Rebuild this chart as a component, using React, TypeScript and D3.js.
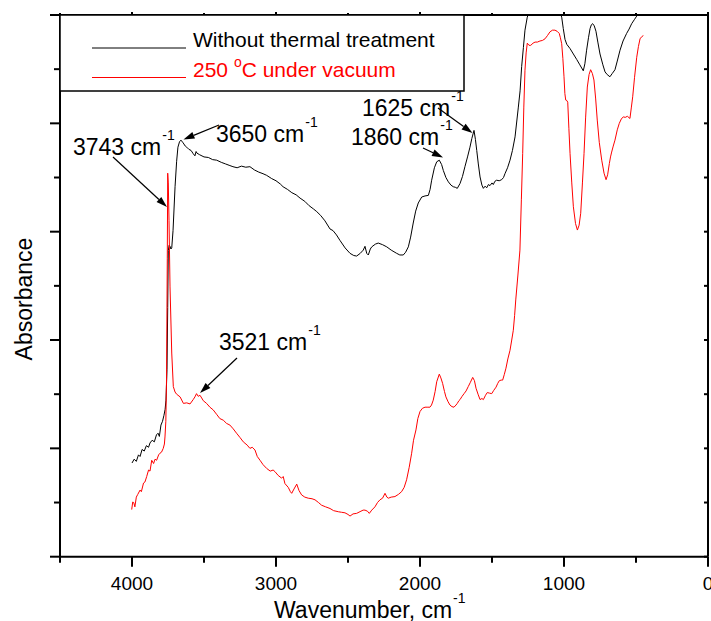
import React from "react";
import * as d3 from "d3";

// [wavenumber (cm-1), absorbance (a.u.)]
const untreated: [number, number][] = [
  [4000,1.73],[3985,1.80],[3970,1.76],[3955,1.88],[3944,1.85],[3930,1.98],[3915,1.95],[3900,2.05],[3885,2.02],[3875,2.10],[3860,2.15],[3845,2.12],[3830,2.25],[3819,2.28],[3810,2.22],[3799,2.43],[3788,2.50],[3778,2.61],[3770,2.72],[3764,2.89],[3757,3.45],[3752,4.6],[3748,5.65],[3742,5.75],[3736,5.73],[3730,5.68],[3724,5.70],[3715,6.02],[3701,6.83],[3690,7.30],[3681,7.56],[3670,7.66],[3660,7.69],[3645,7.64],[3630,7.58],[3620,7.56],[3605,7.52],[3590,7.50],[3575,7.44],[3563,7.40],[3555,7.48],[3549,7.45],[3530,7.42],[3500,7.38],[3470,7.37],[3440,7.33],[3412,7.32],[3380,7.28],[3350,7.25],[3320,7.22],[3299,7.20],[3270,7.18],[3240,7.21],[3210,7.19],[3181,7.20],[3150,7.14],[3120,7.10],[3090,7.07],[3065,7.04],[3030,6.98],[3000,6.94],[2970,6.88],[2951,6.83],[2920,6.78],[2890,6.72],[2860,6.68],[2833,6.62],[2800,6.56],[2770,6.48],[2740,6.42],[2717,6.37],[2690,6.30],[2660,6.20],[2625,6.05],[2604,6.02],[2580,5.94],[2556,5.84],[2520,5.70],[2486,5.60],[2460,5.56],[2440,5.55],[2415,5.60],[2394,5.66],[2382,5.73],[2370,5.60],[2359,5.57],[2345,5.68],[2335,5.72],[2310,5.77],[2290,5.79],[2260,5.76],[2231,5.72],[2200,5.66],[2162,5.60],[2140,5.57],[2116,5.57],[2100,5.62],[2081,5.72],[2065,5.90],[2047,6.16],[2030,6.38],[2012,6.53],[1988,6.64],[1965,6.66],[1942,6.67],[1930,6.78],[1919,6.95],[1900,7.18],[1884,7.29],[1866,7.32],[1850,7.24],[1838,7.13],[1820,7.00],[1803,6.92],[1785,6.86],[1769,6.83],[1755,6.82],[1741,6.80],[1722,6.89],[1705,7.02],[1688,7.20],[1670,7.38],[1653,7.56],[1640,7.72],[1625,7.87],[1615,7.70],[1606,7.50],[1595,7.25],[1583,7.01],[1570,6.86],[1560,6.80],[1548,6.84],[1537,6.81],[1525,6.87],[1514,6.85],[1500,6.90],[1491,6.87],[1480,6.93],[1468,6.95],[1450,6.94],[1433,6.96],[1420,7.00],[1410,7.07],[1392,7.18],[1375,7.32],[1358,7.50],[1340,7.75],[1317,8.30],[1305,8.60],[1294,9.05],[1282,9.40],[1271,9.72],[1255,9.96],[1236,10.1],[1200,10.2],[1150,10.3],[1100,10.3],[1050,10.2],[1028,10.05],[1016,9.96],[1005,9.75],[993,9.55],[981,9.46],[958,9.38],[935,9.28],[912,9.18],[890,9.08],[866,8.97],[855,9.10],[843,9.35],[830,9.58],[819,9.75],[810,9.82],[801,9.84],[790,9.80],[778,9.70],[765,9.50],[750,9.28],[730,9.08],[715,8.95],[700,8.90],[681,8.86],[665,8.92],[646,8.99],[630,9.15],[611,9.35],[590,9.52],[565,9.66],[548,9.74],[530,9.84],[510,9.92],[495,9.98],[480,10.05]
];

const vacuum250: [number, number][] = [
  [4002,0.87],[3995,1.01],[3988,1.00],[3980,0.92],[3970,1.10],[3960,1.15],[3944,1.23],[3935,1.20],[3920,1.36],[3910,1.38],[3898,1.48],[3885,1.60],[3875,1.58],[3863,1.78],[3850,1.72],[3840,1.80],[3829,1.78],[3815,1.88],[3806,1.91],[3795,1.93],[3783,2.00],[3775,2.08],[3771,2.21],[3765,2.5],[3760,3.3],[3755,5.5],[3752,7.08],[3748,6.9],[3743,6.21],[3736,4.98],[3724,3.76],[3713,3.14],[3701,3.04],[3690,3.00],[3666,2.95],[3643,2.83],[3620,2.84],[3597,2.82],[3575,2.90],[3563,2.95],[3552,3.01],[3540,2.96],[3528,2.98],[3516,2.93],[3505,2.88],[3482,2.83],[3459,2.76],[3436,2.71],[3410,2.62],[3390,2.55],[3366,2.52],[3343,2.46],[3320,2.43],[3297,2.36],[3274,2.28],[3250,2.20],[3227,2.12],[3200,2.06],[3181,2.00],[3165,2.02],[3146,1.97],[3130,1.85],[3111,1.78],[3090,1.70],[3065,1.63],[3040,1.58],[3020,1.60],[3007,1.57],[2985,1.50],[2961,1.45],[2950,1.48],[2938,1.35],[2915,1.28],[2900,1.20],[2891,1.17],[2875,1.25],[2856,1.34],[2840,1.22],[2822,1.14],[2800,1.10],[2776,1.08],[2750,1.07],[2729,1.05],[2705,1.00],[2683,0.95],[2655,0.92],[2625,0.89],[2600,0.85],[2567,0.83],[2545,0.82],[2521,0.81],[2500,0.78],[2486,0.75],[2465,0.79],[2440,0.80],[2410,0.84],[2395,0.86],[2382,0.86],[2365,0.84],[2352,0.80],[2335,0.86],[2313,0.92],[2295,1.00],[2278,1.05],[2260,1.08],[2243,1.17],[2230,1.10],[2220,1.08],[2200,1.10],[2174,1.11],[2150,1.15],[2128,1.20],[2110,1.28],[2093,1.42],[2075,1.65],[2058,1.91],[2045,2.15],[2028,2.34],[2015,2.55],[2000,2.68],[1983,2.74],[1965,2.76],[1945,2.76],[1931,2.76],[1920,2.80],[1908,2.89],[1895,3.05],[1884,3.23],[1866,3.37],[1855,3.30],[1843,3.20],[1830,3.05],[1820,2.95],[1805,2.86],[1792,2.80],[1778,2.77],[1764,2.76],[1750,2.80],[1741,2.83],[1730,2.88],[1722,2.90],[1708,2.96],[1694,3.01],[1680,3.06],[1665,3.14],[1650,3.22],[1634,3.31],[1622,3.25],[1611,3.11],[1597,3.00],[1583,2.90],[1570,2.92],[1560,2.90],[1545,2.98],[1533,3.03],[1518,3.02],[1502,3.01],[1488,3.07],[1472,3.13],[1460,3.20],[1449,3.25],[1436,3.26],[1426,3.26],[1415,3.36],[1403,3.48],[1390,3.65],[1375,3.81],[1363,4.00],[1352,4.18],[1343,4.45],[1335,4.74],[1320,5.2],[1306,5.66],[1296,6.6],[1287,7.44],[1279,8.3],[1271,8.98],[1263,9.30],[1255,9.48],[1243,9.44],[1231,9.44],[1215,9.48],[1201,9.50],[1185,9.50],[1167,9.52],[1150,9.53],[1132,9.56],[1115,9.62],[1097,9.69],[1080,9.72],[1063,9.72],[1048,9.70],[1033,9.66],[1025,9.58],[1016,9.47],[1008,9.2],[1000,8.86],[994,8.55],[988,8.43],[980,8.42],[974,8.39],[966,7.9],[958,7.44],[946,6.9],[935,6.46],[920,6.15],[907,6.03],[895,6.12],[884,6.34],[872,6.9],[861,7.44],[850,8.1],[838,8.67],[826,8.90],[815,8.99],[803,8.92],[792,8.80],[780,8.45],[769,8.06],[755,7.65],[738,7.32],[722,7.08],[708,6.96],[697,7.05],[685,7.26],[677,7.38],[669,7.47],[658,7.58],[646,7.69],[630,7.88],[616,8.00],[602,8.08],[588,8.12],[575,8.11],[560,8.13],[542,8.09],[532,8.30],[523,8.49],[510,8.85],[495,9.22],[483,9.42],[472,9.56],[460,9.60],[449,9.62]
];

const xMajorTicks = [4000, 3000, 2000, 1000, 0];
const xMinorTicks = [4500, 3500, 2500, 1500, 500];
const yMajorTicks = [0, 2, 4, 6, 8, 10];
const yMinorTicks = [1, 3, 5, 7, 9];

const legendLabels = ["Without thermal treatment", "250 °C under vacuum"];
const seriesColors = ["#000000", "#ff0000"];

const FONT = "'Liberation Sans', Arial, Helvetica, sans-serif";

const W = 711, H = 621;
const L = 60, R = 708, T = 15, B = 556.7;

export default function App() {
  const x = d3.scaleLinear().domain([4500, 0]).range([L, R]);
  const y = d3.scaleLinear().domain([0, 10]).range([B, T]);
  const line = d3.line<[number, number]>().x(d => x(d[0])).y(d => y(d[1]));

  const arrow = (x1: number, y1: number, x2: number, y2: number, key: string) => {
    const a = Math.atan2(y2 - y1, x2 - x1);
    const len = 11, half = 3.5;
    const bx = x2 - len * Math.cos(a), by = y2 - len * Math.sin(a);
    const p1 = [bx + half * Math.sin(a), by - half * Math.cos(a)];
    const p2 = [bx - half * Math.sin(a), by + half * Math.cos(a)];
    return (
      <g key={key}>
        <line x1={x1} y1={y1} x2={bx} y2={by} stroke="#000" strokeWidth={1.2} />
        <polygon points={`${x2},${y2} ${p1[0]},${p1[1]} ${p2[0]},${p2[1]}`} fill="#000" />
      </g>
    );
  };

  const annot = (tx: number, ty: number, label: string, key: string) => (
    <text key={key} x={tx} y={ty} fontSize={23} fontFamily={FONT} fill="#000">
      {label} cm<tspan fontSize={14} dx={1} dy={-15}>-1</tspan>
    </text>
  );

  return (
    <svg width={W} height={H} style={{ position: "absolute", left: 0, top: 0, background: "#fff" }}>
      <defs>
        <clipPath id="plotclip">
          <rect x={L} y={T} width={R - L} height={B - T} />
        </clipPath>
      </defs>
      <rect x={0} y={0} width={W} height={H} fill="#fff" />

      <g clipPath="url(#plotclip)">
        <path d={line(untreated) || ""} fill="none" stroke={seriesColors[0]} strokeWidth={1} />
        <path d={line(vacuum250) || ""} fill="none" stroke={seriesColors[1]} strokeWidth={1} />
      </g>

      {/* frame */}
      <line x1={L} y1={B} x2={R} y2={B} stroke="#000" strokeWidth={2} />
      <line x1={L} y1={T} x2={L} y2={B} stroke="#000" strokeWidth={2} />
      <line x1={L} y1={T} x2={R} y2={T} stroke="#000" strokeWidth={2} />
      <line x1={R} y1={T} x2={R} y2={B} stroke="#000" strokeWidth={2} />

      {/* x ticks */}
      {xMajorTicks.map(t => (
        <g key={"xm" + t}>
          <line x1={x(t)} x2={x(t)} y1={B} y2={B + 10} stroke="#000" strokeWidth={2} />
          <line x1={x(t)} x2={x(t)} y1={T} y2={T - 3} stroke="#000" strokeWidth={2} />
          <text x={x(t)} y={590} textAnchor="middle" fontSize={19} fontFamily={FONT} fill="#000">{t}</text>
        </g>
      ))}
      {xMinorTicks.map(t => (
        <g key={"xn" + t}>
          <line x1={x(t)} x2={x(t)} y1={B} y2={B + 6} stroke="#000" strokeWidth={2} />
          <line x1={x(t)} x2={x(t)} y1={T} y2={T - 2} stroke="#000" strokeWidth={2} />
        </g>
      ))}
      {/* y ticks */}
      {yMajorTicks.map(t => (
        <g key={"ym" + t}>
          <line x1={L - 10} x2={L} y1={y(t)} y2={y(t)} stroke="#000" strokeWidth={2} />
          <line x1={R - 4} x2={R} y1={y(t)} y2={y(t)} stroke="#000" strokeWidth={2} />
        </g>
      ))}
      {yMinorTicks.map(t => (
        <g key={"yn" + t}>
          <line x1={L - 6} x2={L} y1={y(t)} y2={y(t)} stroke="#000" strokeWidth={2} />
          <line x1={R - 4} x2={R} y1={y(t)} y2={y(t)} stroke="#000" strokeWidth={2} />
        </g>
      ))}

      {/* axis titles */}
      <text x={274} y={618} fontSize={23} fontFamily={FONT} fill="#000">
        Wavenumber, cm<tspan fontSize={14} dx={1} dy={-15}>-1</tspan>
      </text>
      <text transform="translate(32,299) rotate(-90)" textAnchor="middle" fontSize={23} fontFamily={FONT} fill="#000">
        Absorbance
      </text>

      {/* legend */}
      <rect x={L} y={T} width={404} height={76} fill="#fff" stroke="#000" strokeWidth={1.5} />
      <line x1={92} x2={186} y1={48} y2={48} stroke={seriesColors[0]} strokeWidth={1} />
      <line x1={92} x2={186} y1={77.5} y2={77.5} stroke={seriesColors[1]} strokeWidth={1} />
      <text x={193} y={47} fontSize={21} fontFamily={FONT} fill={seriesColors[0]}>{legendLabels[0]}</text>
      <text x={193} y={77} fontSize={21} fontFamily={FONT} fill={seriesColors[1]}>
        250 <tspan fontSize={14} dy={-10}>o</tspan><tspan dy={10}>C under vacuum</tspan>
      </text>

      {/* annotations */}
      {annot(73, 155, "3743", "a1")}
      {arrow(113, 157, 167, 207, "r1")}
      {annot(216, 142, "3650", "a2")}
      {arrow(219, 125, 183.5, 139.5, "r2")}
      {annot(362, 116, "1625", "a3")}
      {arrow(438, 108, 472.5, 133, "r3")}
      {annot(351, 145, "1860", "a4")}
      {arrow(423, 148, 443, 157.5, "r4")}
      {annot(219, 350, "3521", "a5")}
      {arrow(237, 358, 200, 393, "r5")}
    </svg>
  );
}
